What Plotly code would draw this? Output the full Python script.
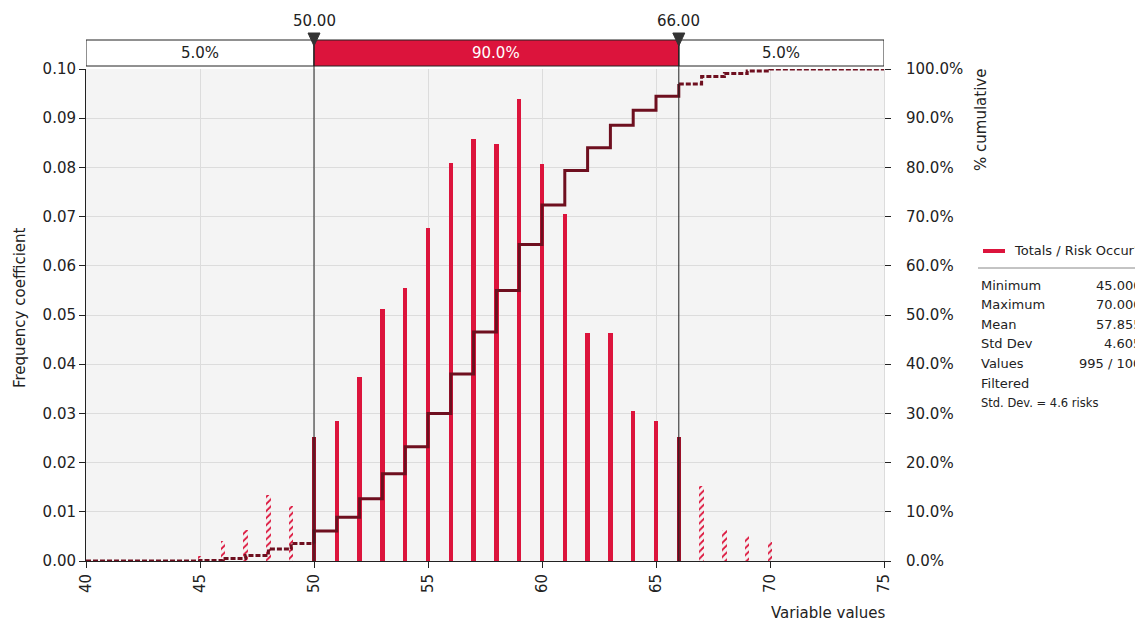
import plotly.graph_objects as go
import numpy as np

# ---- data ----
values = [45, 46, 47, 48, 49, 50, 51, 52, 53, 54, 55, 56, 57, 58, 59, 60,
          61, 62, 63, 64, 65, 66, 67, 68, 69, 70]
freq = [0.0010, 0.0040, 0.0063, 0.0134, 0.0112, 0.0252, 0.0285, 0.0374,
        0.0512, 0.0555, 0.0677, 0.0809, 0.0858, 0.0848, 0.0939, 0.0807,
        0.0705, 0.0463, 0.0463, 0.0305, 0.0285, 0.0252, 0.0152, 0.0063,
        0.0051, 0.0039]
lower_cut, upper_cut = 50, 66
band_labels = ["5.0%", "90.0%", "5.0%"]
cut_labels = ["50.00", "66.00"]
x_ticks = [40, 45, 50, 55, 60, 65, 70, 75]
stat_names = ["Minimum", "Maximum", "Mean", "Std Dev", "Values", "Filtered"]
stat_values = ["45.0000", "70.0000", "57.8553", "4.6057", "995 / 1000", "5"]
legend_name = "Totals / Risk Occur?"
note_text = "Std. Dev. = 4.6 risks"

RED = "#dc143c"
DARK = "#6e0f1f"
FONT = "DejaVu Sans"
TXT = "#222222"

cum = np.cumsum(freq) / np.sum(freq)
cum_of = dict(zip(values, cum))

fig = go.Figure()

# bars
colors = []
shapes_pat = []
for v in values:
    if v in (lower_cut, upper_cut):
        colors.append("#9a1029")
        shapes_pat.append("")
    elif v < lower_cut or v > upper_cut:
        colors.append(RED)
        shapes_pat.append("/")
    else:
        colors.append(RED)
        shapes_pat.append("")
fig.add_trace(go.Bar(
    x=values, y=freq, width=0.2,
    marker=dict(color=colors, line=dict(width=0),
                pattern=dict(shape=shapes_pat, fgcolor="white", bgcolor=colors,
                             size=5, solidity=0.35, fillmode="replace")),
    showlegend=False, hoverinfo="skip"))

# cumulative step line (secondary axis)
left_x = [40] + [v for v in values if v < lower_cut] + [lower_cut]
left_y = [0] + [cum_of[v] for v in values if v < lower_cut] + [cum_of[lower_cut - 1]]
mid_x = [lower_cut] + [v for v in values if lower_cut <= v <= upper_cut]
mid_y = [cum_of[lower_cut - 1]] + [cum_of[v] for v in values if lower_cut <= v <= upper_cut]
right_x = [upper_cut] + [v for v in values if v > upper_cut] + [75]
right_y = [cum_of[upper_cut]] + [cum_of[v] for v in values if v > upper_cut] + [1.0]

for xs, ys, dash in [(left_x, left_y, "5px,2px"), (mid_x, mid_y, "solid"),
                     (right_x, right_y, "5px,2px")]:
    fig.add_trace(go.Scatter(x=xs, y=ys, mode="lines", yaxis="y2",
                             line=dict(shape="hv", color=DARK, width=3, dash=dash),
                             showlegend=False, hoverinfo="skip"))

# geometry (window pixels; the page body adds an 8px offset)
OFF = 8
W, H = 1143 - OFF, 622 - OFF
L, R, T, B = 86, 884, 69, 561
PW, PH = R - L, B - T
def px(x):
    return (x - L) / PW
def py(y):
    return (B - y) / PH

shapes = []
# top band
b_top, b_bot = py(40), py(66)
shapes.append(dict(type="rect", xref="x", yref="paper", x0=40, x1=lower_cut,
                   y0=b_bot, y1=b_top, fillcolor="white", line=dict(color="#222", width=1)))
shapes.append(dict(type="rect", xref="x", yref="paper", x0=upper_cut, x1=75,
                   y0=b_bot, y1=b_top, fillcolor="white", line=dict(color="#222", width=1)))
shapes.append(dict(type="rect", xref="x", yref="paper", x0=lower_cut, x1=upper_cut,
                   y0=b_bot, y1=b_top, fillcolor=RED, line=dict(color="#222", width=1)))
# cut lines
for c in (lower_cut, upper_cut):
    shapes.append(dict(type="line", xref="x", yref="paper", x0=c, x1=c, y0=0, y1=b_top,
                       line=dict(color="#222", width=1), layer="above"))
    hw = 6 / PW * 35
    shapes.append(dict(type="path", xref="x", yref="paper",
                       path=f"M {c-hw},{py(33)} L {c+hw},{py(33)} L {c},{py(46)} Z",
                       fillcolor="#333", line=dict(color="#333", width=1)))
# legend sample and separator
shapes.append(dict(type="line", xref="paper", yref="paper", x0=px(983), x1=px(1005),
                   y0=py(251), y1=py(251), line=dict(color=RED, width=4)))
shapes.append(dict(type="line", xref="paper", yref="paper", x0=px(978), x1=px(1160),
                   y0=py(268), y1=py(268), line=dict(color="#888", width=1)))

ann = []
centers = [(40 + lower_cut) / 2, (lower_cut + upper_cut) / 2, (upper_cut + 75) / 2]
for cx, lab, col in zip(centers, band_labels, [TXT, "white", TXT]):
    ann.append(dict(x=cx, xref="x", y=py(53), yref="paper", text=lab, showarrow=False,
                    font=dict(family=FONT, size=15, color=col), xanchor="center", yanchor="middle"))
for c, lab in zip((lower_cut, upper_cut), cut_labels):
    ann.append(dict(x=c, xref="x", y=py(21), yref="paper", text=lab, showarrow=False,
                    font=dict(family=FONT, size=15, color=TXT), xanchor="center", yanchor="middle"))
ann.append(dict(x=px(20), xref="paper", y=py(308), yref="paper", text="Frequency coefficient",
                textangle=-90, showarrow=False, font=dict(family=FONT, size=15, color=TXT),
                xanchor="center", yanchor="middle"))
ann.append(dict(x=px(981), xref="paper", y=py(67), yref="paper", text="% cumulative",
                textangle=-90, showarrow=False, font=dict(family=FONT, size=15, color=TXT),
                xanchor="center", yanchor="top"))
ann.append(dict(x=px(887), xref="paper", y=py(613), yref="paper", text="Variable values",
                showarrow=False, font=dict(family=FONT, size=15, color=TXT),
                xanchor="right", yanchor="middle"))
ann.append(dict(x=px(1012), xref="paper", y=py(251), yref="paper", text=legend_name,
                showarrow=False, font=dict(family=FONT, size=13, color=TXT),
                xanchor="left", yanchor="middle"))
row_y = [285, 304, 324, 343, 363, 383]
for yy, nm, vv in zip(row_y, stat_names, stat_values):
    ann.append(dict(x=px(979), xref="paper", y=py(yy), yref="paper", text=nm, showarrow=False,
                    font=dict(family=FONT, size=13, color=TXT), xanchor="left", yanchor="middle"))
    ann.append(dict(x=px(1152), xref="paper", y=py(yy), yref="paper", text=vv, showarrow=False,
                    font=dict(family=FONT, size=13, color="#f0a020" if nm == "Filtered" else TXT),
                    xanchor="right", yanchor="middle"))
ann.append(dict(x=px(979), xref="paper", y=py(403), yref="paper", text=note_text, showarrow=False,
                font=dict(family=FONT, size=11.5, color=TXT), xanchor="left", yanchor="middle"))

fig.update_layout(
    width=W, height=H,
    margin=dict(l=L - OFF, r=W - (R - OFF), t=T - OFF, b=H - (B - OFF)),
    paper_bgcolor="white", plot_bgcolor="#f4f4f4",
    font=dict(family=FONT, size=15, color=TXT),
    shapes=shapes, annotations=ann, bargap=0,
    xaxis=dict(range=[40, 75], tickvals=x_ticks, tickangle=-90, showgrid=True,
               gridcolor="#dcdcdc", gridwidth=1, showline=True, linecolor="#222", linewidth=1,
               ticks="outside", ticklen=6, tickcolor="#222", zeroline=False, mirror=False,
               tickfont=dict(family=FONT, size=15, color=TXT)),
    yaxis=dict(range=[0, 0.1], dtick=0.01, tickformat=".2f", showgrid=True,
               gridcolor="#dcdcdc", gridwidth=1, showline=True, linecolor="#222", linewidth=1,
               ticks="outside", ticklen=6, tickcolor="#222", zeroline=False,
               tickfont=dict(family=FONT, size=15, color=TXT)),
    yaxis2=dict(range=[0, 1], dtick=0.1, tickformat=".1%", overlaying="y", side="right",
                showgrid=False, showline=True, linecolor="#dcdcdc", ticks="outside", ticklen=6,
                tickcolor="#222", zeroline=False, ticklabelstandoff=12,
                tickfont=dict(family=FONT, size=15, color=TXT)),
)

fig.write_html("out.html")
